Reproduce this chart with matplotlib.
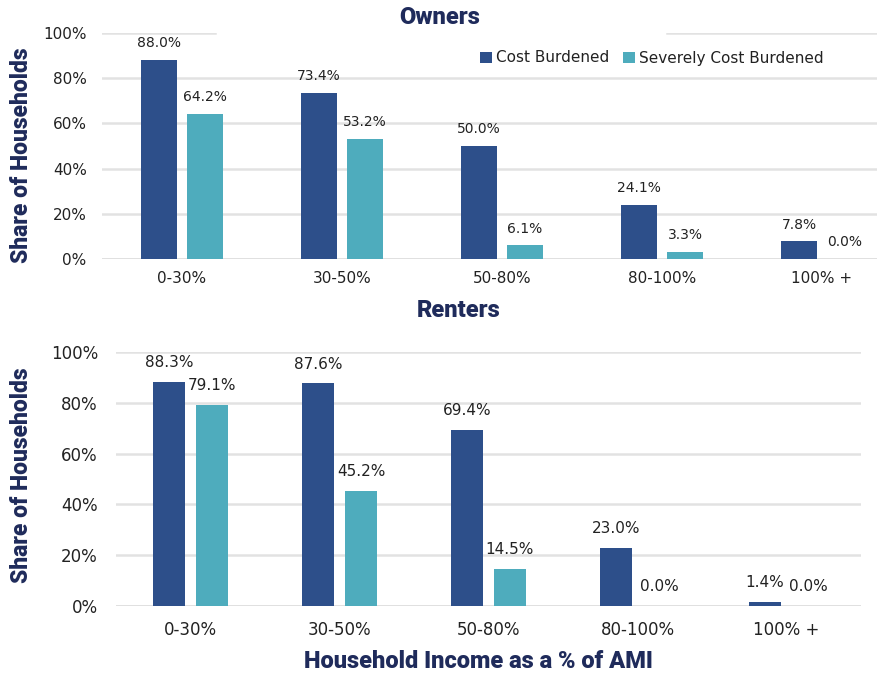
import matplotlib
matplotlib.use("Agg")
import matplotlib.pyplot as plt
import numpy as np

# Data (percent of households)
categories = ["0-30%", "30-50%", "50-80%", "80-100%", "100% +"]
owners_cost_burdened = [88.0, 73.4, 50.0, 24.1, 7.8]
owners_severely = [64.2, 53.2, 6.1, 3.3, 0.0]
renters_cost_burdened = [88.3, 87.6, 69.4, 23.0, 1.4]
renters_severely = [79.1, 45.2, 14.5, 0.0, 0.0]
yticks = [0, 20, 40, 60, 80, 100]

DARK = "#2d4f8a"
TEAL = "#4eacbd"
NAVY = "#1f2b5b"
GRID = "#e2e2e2"
W, H = 877, 675

fig = plt.figure(figsize=(W / 100, H / 100), dpi=100)


def px(x0, y0, x1, y1):
    # pixel box (left, top, right, bottom) -> figure fraction rect
    return [x0 / W, 1 - y1 / H, (x1 - x0) / W, (y1 - y0) / H]


def drawPanel(ax, cb, scb, fontsize, tickpad, xpad, labelOffset, gap100=None):
    x = np.arange(len(categories))
    off = 0.144
    width = 0.22
    ax.bar(x - off, cb, width, color=DARK, zorder=3, label="Cost Burdened")
    ax.bar(x + off, scb, width, color=TEAL, zorder=3, label="Severely Cost Burdened")

    for xs, vals in ((x - off, cb), (x + off, scb)):
        for xi, v in zip(xs, vals):
            ax.annotate("%.1f%%" % v, (xi, v), xytext=(0, labelOffset), textcoords="offset points",
                        ha="center", va="center", fontsize=fontsize, color="#222222")

    ax.set_ylim(0, 100)
    ax.set_yticks(yticks)
    ax.set_yticklabels(["%d%%" % t for t in yticks], fontsize=fontsize + 1, color="#222222")
    ax.set_xticks(x)
    ax.set_xticklabels(categories, fontsize=fontsize + 1, color="#222222")
    ax.tick_params(length=0)
    ax.tick_params(axis="y", pad=tickpad)
    ax.tick_params(axis="x", pad=xpad)
    for s in ax.spines.values():
        s.set_visible(False)

    for t in yticks:
        if t == 100 and gap100 is not None:
            ax.axhline(t, 0, gap100[0], color=GRID, lw=1.8, zorder=1)
            ax.axhline(t, gap100[1], 1, color=GRID, lw=1.8, zorder=1)
        else:
            ax.axhline(t, color=GRID if t else "#d6d6d6", lw=1.8, zorder=1)


# Owners panel (right side cropped in the original)
ax1 = fig.add_axes(px(102, 33, 877, 259))
drawPanel(ax1, owners_cost_burdened, owners_severely, 10, 11, 9, 12,
          gap100=((215 - 102) / 775, (667 - 102) / 775))
ax1.set_xlim(-0.5, -0.5 + 775 / 160)

# Renters panel
ax2 = fig.add_axes(px(116, 352, 861, 606))
drawPanel(ax2, renters_cost_burdened, renters_severely, 11, 13, 11, 14)
ax2.set_xlim(-0.5, 4.5)

leg = ax1.legend(loc="center", bbox_to_anchor=(652 / W, 1 - 58 / H), bbox_transform=fig.transFigure,
                 ncol=2, frameon=False, fontsize=11, handlelength=0.75, handleheight=0.75,
                 handletextpad=0.3, columnspacing=0.9)
for t in leg.get_texts():
    t.set_color("#222222")

bold = dict(family="Roboto", weight="heavy", color=NAVY)
fig.text(440 / W, 1 - 17 / H, "Owners", ha="center", va="center", fontsize=17, **bold)
fig.text(459 / W, 1 - 311 / H, "Renters", ha="center", va="center", fontsize=17, **bold)
fig.text(22 / W, 1 - 155 / H, "Share of Households", rotation=90, ha="center", va="center", fontsize=16.5, **bold)
fig.text(22 / W, 1 - 475 / H, "Share of Households", rotation=90, ha="center", va="center", fontsize=16.5, **bold)
fig.text(478 / W, 1 - 662 / H, "Household Income as a % of AMI", ha="center", va="center", fontsize=17, **bold)

fig.savefig("out.png", dpi=100)
